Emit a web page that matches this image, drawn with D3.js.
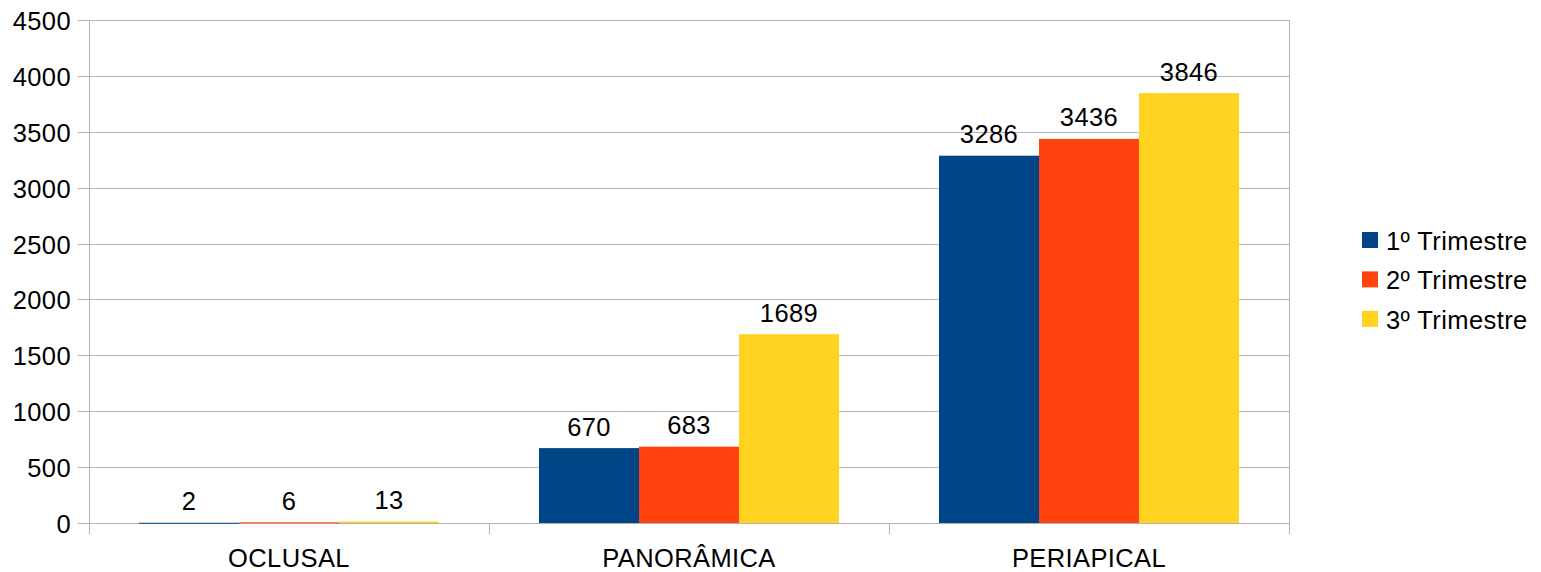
<!DOCTYPE html>
<html><head><meta charset="utf-8">
<script src="https://cdn.jsdelivr.net/npm/d3@7"></script>
<style>body{margin:0;background:#fff}svg{display:block;font-family:"Liberation Sans",Arial,sans-serif}</style>
</head><body><svg id="c" width="1541" height="572"></svg>
<script>
const categories = ["OCLUSAL", "PANORÂMICA", "PERIAPICAL"];
const seriesNames = ["1º Trimestre", "2º Trimestre", "3º Trimestre"];
const trim1 = [2, 670, 3286];
const trim2 = [6, 683, 3436];
const trim3 = [13, 1689, 3846];
const yTicks = [0, 500, 1000, 1500, 2000, 2500, 3000, 3500, 4000, 4500];
const colors = ["#004586", "#ff420e", "#ffd320"];
const series = [trim1, trim2, trim3];

const FS = 25.5, LS = 0.4;
const svg = d3.select("#c");
const L = 89, R = 1289, T = 20, B = 523;
const x0 = d3.scaleBand().domain(categories).range([L, R]).paddingInner(0).paddingOuter(0);
const x1 = d3.scaleBand().domain(d3.range(3)).range([50, 350]);
const y = d3.scaleLinear().domain([0, 4500]).range([B, T]);
const grid = "#b3b3b3";

svg.append("g").selectAll("line").data(yTicks).join("line")
  .attr("x1", L - 11).attr("x2", R).attr("y1", d => Math.round(y(d)) + 0.5).attr("y2", d => Math.round(y(d)) + 0.5)
  .attr("stroke", grid).attr("stroke-width", 1);
svg.append("line").attr("x1", L + 0.5).attr("x2", L + 0.5).attr("y1", T).attr("y2", B + 11).attr("stroke", grid);
svg.append("line").attr("x1", R + 0.5).attr("x2", R + 0.5).attr("y1", T).attr("y2", B + 11).attr("stroke", grid);
svg.append("g").selectAll("line").data(categories.slice(1)).join("line")
  .attr("x1", d => x0(d) + 0.5).attr("x2", d => x0(d) + 0.5).attr("y1", B).attr("y2", B + 11).attr("stroke", grid);

svg.append("g").selectAll("text").data(yTicks).join("text")
  .attr("x", 71).attr("y", d => y(d) + 10).attr("text-anchor", "end")
  .attr("font-size", FS).attr("letter-spacing", LS).attr("fill", "#000").text(d => d);

categories.forEach((c, ci) => {
  series.forEach((s, si) => {
    const v = s[ci];
    const bx = x0(c) + x1(si);
    svg.append("rect").attr("x", bx).attr("y", y(v)).attr("width", x1.bandwidth())
      .attr("height", Math.max(B - y(v), 1)).attr("fill", colors[si]);
    svg.append("text").attr("x", bx + x1.bandwidth() / 2).attr("y", y(v) - 12.5)
      .attr("text-anchor", "middle").attr("font-size", FS).attr("letter-spacing", LS).attr("fill", "#000").text(v);
  });
});

svg.append("g").selectAll("text").data(categories).join("text")
  .attr("x", d => x0(d) + x0.bandwidth() / 2).attr("y", 567).attr("text-anchor", "middle")
  .attr("font-size", FS).attr("letter-spacing", LS).attr("fill", "#000").text(d => d);

const lg = svg.append("g");
seriesNames.forEach((n, i) => {
  const top = 232 + i * 39.4;
  lg.append("rect").attr("x", 1362).attr("y", top).attr("width", 16).attr("height", 16).attr("fill", colors[i]);
  lg.append("text").attr("x", 1386).attr("y", top + 18).attr("font-size", FS).attr("letter-spacing", LS).attr("fill", "#000").text(n);
});
</script></body></html>
